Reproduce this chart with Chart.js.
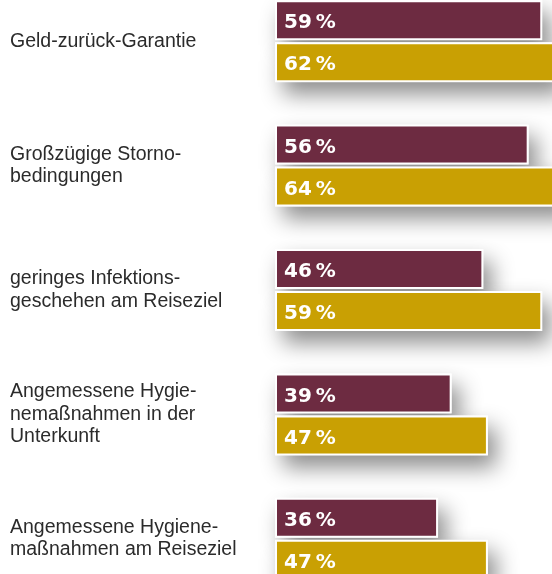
<!DOCTYPE html>
<html>
<head>
<meta charset="utf-8">
<script src="https://cdn.jsdelivr.net/npm/chart.js@4/dist/chart.umd.min.js"></script>
<style>
    html, body { margin: 0; padding: 0; background: #fff; }
    #wrap { position: relative; width: 552px; height: 574px; overflow: hidden; }
    #chart { position: absolute; left: 0; top: -21px; }
</style>
</head>
<body>
<div id="wrap">
    <canvas id="chart" width="552" height="622"></canvas>
</div>
<script>
// Data
const categories = [
    ['Geld-zurück-Garantie'],
    ['Großzügige Storno-', 'bedingungen'],
    ['geringes Infektions-', 'geschehen am Reiseziel'],
    ['Angemessene Hygie-', 'nemaßnahmen in der', 'Unterkunft'],
    ['Angemessene Hygiene-', 'maßnahmen am Reiseziel']
];
const seriesA = [59, 56, 46, 39, 36];
const seriesB = [62, 64, 59, 47, 47];
const colors = ['#6d2b41', '#c9a003'];

// Soft drop shadow behind each bar (bars clip their own shadow, so draw it first)
const barShadows = {
    id: 'barShadows',
    beforeDatasetsDraw(chart) {
        const ctx = chart.ctx;
        ctx.save();
        ctx.shadowColor = 'rgba(0, 0, 0, 0.45)';
        ctx.shadowBlur = 22;
        ctx.shadowOffsetX = 8;
        ctx.shadowOffsetY = 12;
        ctx.fillStyle = '#fff';
        chart.data.datasets.forEach((ds, i) => {
            chart.getDatasetMeta(i).data.forEach(bar => {
                const p = bar.getProps(['x', 'y', 'base', 'height'], true);
                ctx.fillRect(p.base, p.y - p.height / 2, p.x - p.base, p.height);
            });
        });
        ctx.restore();
    },
    afterDatasetsDraw(chart) {
        const ctx = chart.ctx;
        ctx.save();
        ctx.fillStyle = '#fff';
        ctx.font = 'bold 20px "DejaVu Sans"';
        ctx.textBaseline = 'middle';
        ctx.textAlign = 'left';
        chart.data.datasets.forEach((ds, i) => {
            chart.getDatasetMeta(i).data.forEach((bar, j) => {
                const p = bar.getProps(['y', 'base'], true);
                ctx.fillText(ds.data[j] + '\u2009%', p.base + 9, p.y + 3);
            });
        });
        ctx.restore();
    }
};

new Chart(document.getElementById('chart'), {
    type: 'bar',
    data: {
        labels: categories,
        datasets: [
            {
                data: seriesA,
                backgroundColor: colors[0],
                borderColor: '#fff',
                borderWidth: 2,
                borderSkipped: false
            },
            {
                data: seriesB,
                backgroundColor: colors[1],
                borderColor: '#fff',
                borderWidth: 2,
                borderSkipped: false
            }
        ]
    },
    options: {
        indexAxis: 'y',
        responsive: false,
        animation: false,
        categoryPercentage: 0.675,
        barPercentage: 0.952,
        layout: { padding: { left: 10, right: 0, top: 0, bottom: 0 } },
        plugins: {
            legend: { display: false },
            tooltip: { enabled: false }
        },
        scales: {
            x: {
                display: false,
                min: 0,
                max: 61.15
            },
            y: {
                grid: { display: false },
                border: { display: false },
                afterFit(scale) {
                    scale.width = 265;
                    // labels are multi-line; don't let them push the plot area in
                    scale.paddingTop = 0;
                    scale.paddingBottom = 0;
                },
                ticks: {
                    autoSkip: false,
                    crossAlign: 'far',
                    padding: 0,
                    color: '#2b2b2b',
                    font: { family: '"Liberation Sans", Arial, sans-serif', size: 19.5, lineHeight: 1.15 }
                }
            }
        }
    },
    plugins: [barShadows]
});
</script>
</body>
</html>
